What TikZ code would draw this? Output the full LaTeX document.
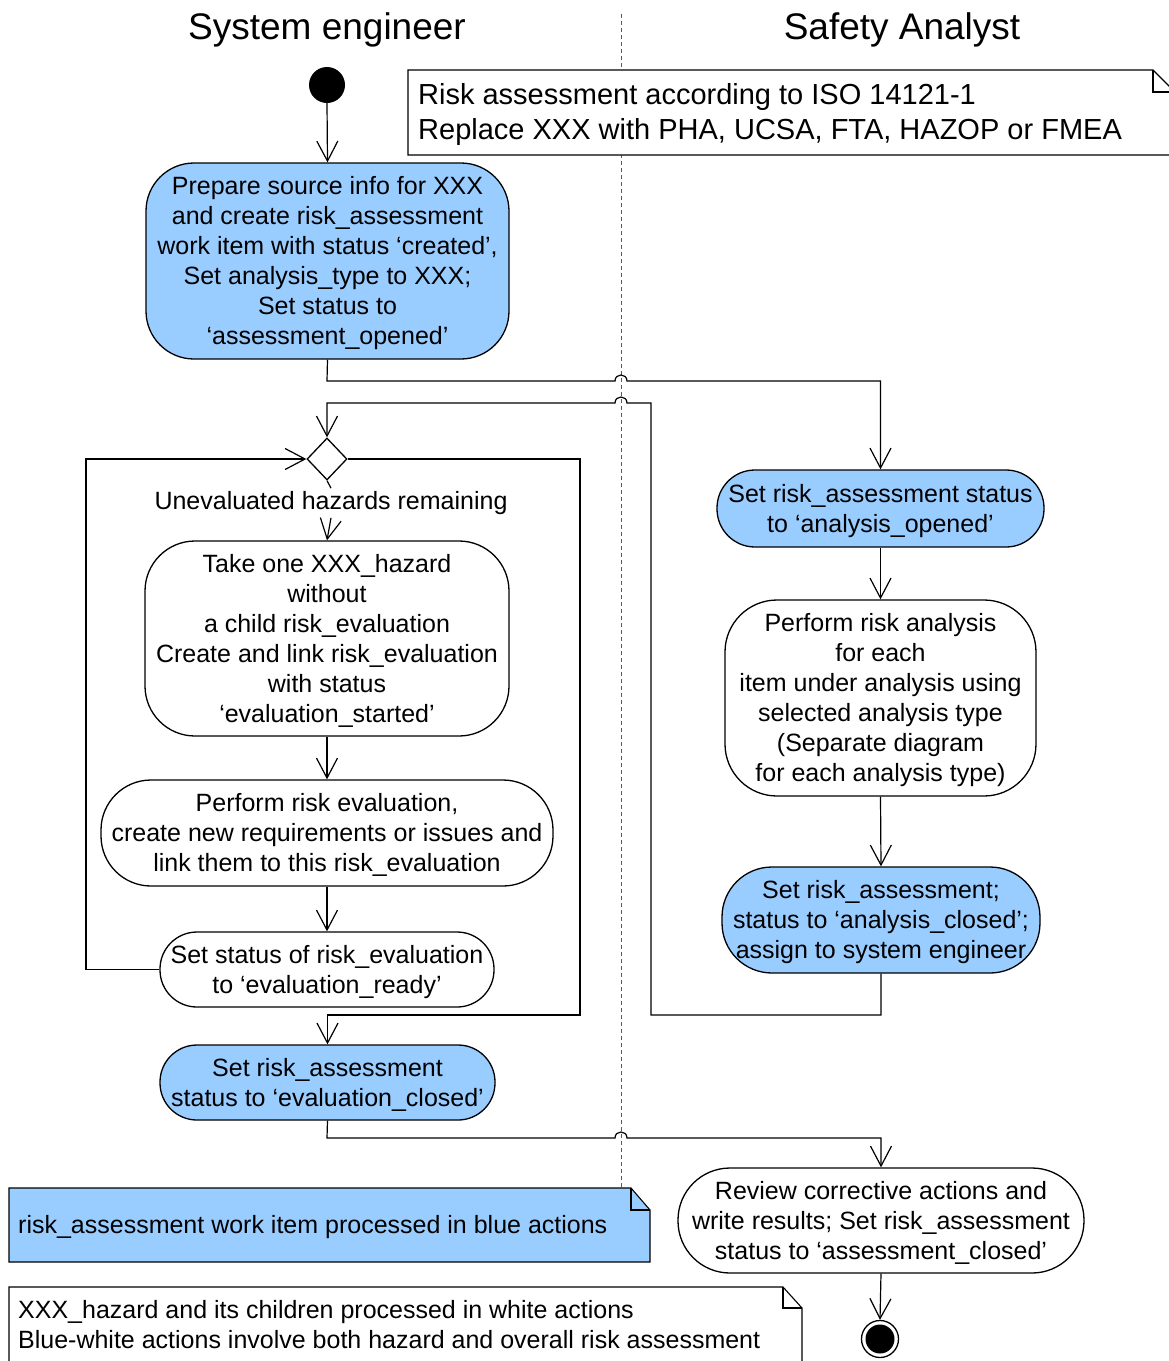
\documentclass[tikz,border=0pt]{standalone}
\usepackage{fontspec}
\setmainfont{Liberation Sans}
\usetikzlibrary{arrows.meta,shapes.geometric}
\definecolor{actblue}{RGB}{153,204,255}

% a little extra room above the first line of action text
\newcommand{\firstline}{\rule{0pt}{22.5pt}}

\tikzset{
  act/.style={draw, line width=1.3pt, align=center, inner sep=0pt,
    font=\fontsize{25}{30}\selectfont},
  blueact/.style={act, fill=actblue},
  whiteact/.style={act, fill=white},
  flow/.style={line width=1.2pt, -{Straight Barb[length=20pt,width=21pt]}},
  plain/.style={line width=1.2pt},
  lane/.style={gray!70!black, line width=1pt, dash pattern=on 4pt off 3pt},
  title/.style={font=\fontsize{37}{44}\selectfont},
  notetext/.style={align=left, inner sep=0pt, anchor=west},
  noteshape/.style={draw, line width=1.1pt}
}

\begin{document}
\begin{tikzpicture}[x=1pt,y=-1pt]
\useasboundingbox (0,0) rectangle (1169,1361);
\clip (0,0) rectangle (1169,1361);

% swimlane headings and separator
\node[title] (lsys) at (327,30) {System engineer};
\node[title] (lsaf) at (902,30) {Safety Analyst};
\draw[lane] (621,14) -- (621,1188);

% note: assessment scope
\draw[noteshape, fill=white] (408,70) -- (1153,70) -- (1175,92) -- (1175,155) -- (408,155) -- cycle;
\draw[noteshape] (1153,70) -- (1153,92) -- (1175,92);
\node[notetext, font=\fontsize{29}{35}\selectfont] (ntop) at (418,114.5)
  {Risk assessment according to ISO 14121-1\\Replace XXX with PHA, UCSA, FTA, HAZOP or FMEA};

% start node
\node[circle, fill=black, minimum size=36pt, inner sep=0pt] (init) at (327,85) {};

% system engineer actions
\node[blueact, rounded corners=48pt, minimum width=363pt, minimum height=196pt] (prep) at (327.5,261)
  {\firstline Prepare source info for XXX\\and create risk\_assessment\\work item with status ‘created’,\\Set analysis\_type to XXX;\\Set status to\\‘assessment\_opened’};

\node[diamond, draw, fill=white, line width=1.3pt, minimum width=40pt, minimum height=42pt, inner sep=0pt] (decision) at (327,459) {};

\node[font=\fontsize{25}{30}\selectfont, fill=white, inner sep=3pt] (guard) at (331,503) {Unevaluated hazards remaining};

\node[whiteact, rounded corners=50pt, minimum width=364pt, minimum height=195pt] (take) at (327,638.5)
  {\firstline Take one XXX\_hazard\\without\\a child risk\_evaluation\\Create and link risk\_evaluation\\with status\\‘evaluation\_started’};

\node[whiteact, rounded corners=50pt, minimum width=452pt, minimum height=106pt] (evalrisk) at (327,833)
  {\firstline Perform risk evaluation,\\create new requirements or issues and\\link them to this risk\_evaluation};

\node[whiteact, rounded corners=37pt, minimum width=334pt, minimum height=75pt] (evready) at (327,969.5)
  {\firstline Set status of risk\_evaluation\\to ‘evaluation\_ready’};

\node[blueact, rounded corners=37pt, minimum width=335pt, minimum height=75pt] (eclosed) at (327.5,1082.5)
  {\firstline Set risk\_assessment\\status to ‘evaluation\_closed’};

% safety analyst actions
\node[blueact, rounded corners=38pt, minimum width=327pt, minimum height=77pt] (aopen) at (880.5,508.5)
  {\firstline Set risk\_assessment status\\to ‘analysis\_opened’};

\node[whiteact, rounded corners=52pt, minimum width=311pt, minimum height=196pt] (analysis) at (880.5,698)
  {\firstline Perform risk analysis\\for each\\item under analysis using\\selected analysis type\\(Separate diagram\\for each analysis type)};

\node[blueact, rounded corners=50pt, minimum width=318pt, minimum height=106pt] (aclosed) at (881,920)
  {\firstline Set risk\_assessment;\\status to ‘analysis\_closed’;\\assign to system engineer};

\node[whiteact, rounded corners=52pt, minimum width=406pt, minimum height=105pt] (review) at (881,1220.5)
  {\firstline Review corrective actions and\\write results; Set risk\_assessment\\status to ‘assessment\_closed’};

% end node
\node[circle, draw, line width=1.3pt, minimum size=37pt, inner sep=0pt] (final) at (880,1339) {};
\node[circle, fill=black, minimum size=29pt, inner sep=0pt] (finaldot) at (final.center) {};

% control flows
\draw[flow] (init.south) -- (prep.north);
\draw[flow] (prep.south) -- (327,381) -- (615,381)
  .. controls (615,373) and (627,373) .. (627,381) -| (aopen.north);
\draw[flow] (aopen.south) -- (analysis.north);
\draw[flow] (analysis.south) -- (aclosed.north);
\draw[flow] (aclosed.south) |- (651,1015) -- (651,403) -- (627,403)
  .. controls (627,395) and (615,395) .. (615,403) -| (decision.north);
\draw[plain] (decision.south) -- (guard.north);
\draw[flow] (guard.south) -- (take.north);
\draw[flow] (take.south) -- (evalrisk.north);
\draw[flow] (evalrisk.south) -- (evready.north);
\draw[flow] (evready.west) -| (86,459) -- (decision.west);
\draw[flow] (decision.east) -| (580,1015) -| (eclosed.north);
\draw[flow] (eclosed.south) -- (327,1138) -- (615,1138)
  .. controls (615,1130) and (627,1130) .. (627,1138) -| (review.north);
\draw[flow] (review.south) -- (final.north);

% note: blue actions
\draw[noteshape, fill=actblue] (9,1188) -- (631,1188) -- (650,1210) -- (650,1262) -- (9,1262) -- cycle;
\draw[noteshape] (631,1188) -- (631,1210) -- (650,1210);
\node[notetext, font=\fontsize{25}{30}\selectfont] (nblue) at (18,1227)
  {risk\_assessment work item processed in blue actions};

% note: white actions
\draw[noteshape, fill=white] (9,1287) -- (783,1287) -- (802,1308) -- (802,1375) -- (9,1375) -- cycle;
\draw[noteshape] (783,1287) -- (783,1308) -- (802,1308);
\node[notetext, font=\fontsize{25}{30}\selectfont] (nwhite) at (18,1325)
  {XXX\_hazard and its children processed in white actions\\Blue-white actions involve both hazard and overall risk assessment};
\end{tikzpicture}
\end{document}
